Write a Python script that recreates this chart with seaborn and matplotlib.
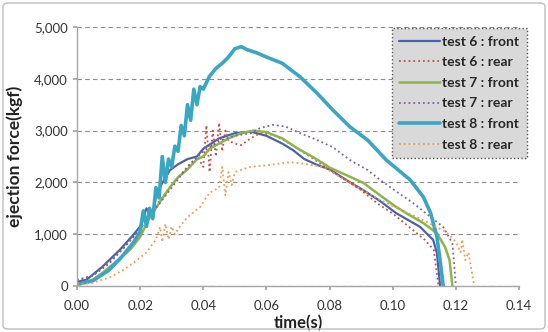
import matplotlib
matplotlib.use("Agg")
import matplotlib.pyplot as plt
import seaborn as sns
import pandas as pd
from matplotlib.patches import FancyBboxPatch
from matplotlib.ticker import FuncFormatter, MultipleLocator

# ---- data ----
t6f = [0, 0.003, 0.008, 0.0136, 0.018, 0.020, 0.022, 0.024, 0.025, 0.027, 0.0295, 0.032, 0.035, 0.038,
       0.040, 0.045, 0.050, 0.055, 0.060, 0.065, 0.0685, 0.072, 0.076, 0.080, 0.0865, 0.0907, 0.096,
       0.101, 0.105, 0.1087, 0.1128, 0.114, 0.115]
f6f = [80, 120, 370, 700, 1000, 1150, 1500, 1300, 1750, 1990, 2240, 2350, 2450, 2500,
       2650, 2850, 2950, 2980, 2900, 2750, 2620, 2450, 2340, 2250, 2000, 1850, 1640,
       1410, 1270, 1140, 890, 640, 0]

t6r = [0, 0.005, 0.01, 0.015, 0.02, 0.025, 0.03, 0.035, 0.038, 0.040, 0.041, 0.042, 0.043, 0.044,
       0.045, 0.046, 0.047, 0.048, 0.050, 0.052, 0.055, 0.058, 0.062, 0.066, 0.070, 0.075, 0.080,
       0.085, 0.090, 0.095, 0.100, 0.105, 0.110, 0.113, 0.1145]
f6r = [120, 200, 450, 750, 1100, 1550, 1950, 2300, 2500, 2300, 3100, 2200, 3000, 2500,
       3150, 2600, 3000, 2800, 2750, 2720, 2850, 2950, 2920, 2800, 2650, 2450, 2250,
       2050, 1850, 1600, 1400, 1150, 900, 700, 0]

t7f = [0, 0.005, 0.008, 0.012, 0.0168, 0.020, 0.0231, 0.026, 0.0295, 0.032, 0.035, 0.038, 0.040,
       0.042, 0.045, 0.048, 0.052, 0.056, 0.060, 0.065, 0.070, 0.075, 0.0802, 0.085, 0.0907, 0.096,
       0.101, 0.105, 0.1097, 0.114, 0.1166, 0.118, 0.1189]
f7f = [30, 120, 250, 450, 700, 950, 1330, 1600, 1910, 2100, 2250, 2450, 2500,
       2650, 2750, 2850, 2950, 3000, 2970, 2850, 2650, 2480, 2280, 2150, 1990, 1750,
       1530, 1380, 1215, 1020, 750, 500, 0]

t7r = [0, 0.005, 0.01, 0.015, 0.02, 0.025, 0.03, 0.035, 0.04, 0.045, 0.05, 0.055, 0.058, 0.062,
       0.066, 0.0707, 0.076, 0.081, 0.0865, 0.092, 0.096, 0.101, 0.1065, 0.112, 0.116, 0.1189,
       0.1195, 0.12]
f7r = [100, 200, 420, 750, 1100, 1500, 1900, 2300, 2600, 2800, 2900, 2950, 3050, 3110,
       3080, 2950, 2820, 2680, 2430, 2240, 2050, 1830, 1600, 1330, 1140, 830,
       400, 0]

t8f = [0, 0.005, 0.01, 0.014, 0.018, 0.020, 0.021, 0.022, 0.023, 0.024, 0.025, 0.026, 0.027, 0.028,
       0.029, 0.030, 0.031, 0.032, 0.033, 0.034, 0.035, 0.036, 0.037, 0.038, 0.039, 0.040, 0.042,
       0.044, 0.046, 0.048, 0.050, 0.052, 0.054, 0.057, 0.060, 0.065, 0.0707, 0.076, 0.081, 0.0865,
       0.092, 0.098, 0.1055, 0.1097, 0.112, 0.114, 0.115, 0.116]
f8f = [30, 100, 300, 550, 850, 1050, 1450, 1150, 1500, 1300, 1900, 1700, 2500, 2000,
       2450, 2300, 2700, 2600, 3100, 2900, 3500, 3200, 3800, 3500, 3850, 3800, 4050,
       4200, 4300, 4420, 4580, 4620, 4560, 4500, 4420, 4300, 4035, 3725, 3400, 3070,
       2820, 2430, 2050, 1720, 1410, 950, 500, 0]

t8r = [0, 0.005, 0.0105, 0.015, 0.019, 0.022, 0.025, 0.0263, 0.027, 0.028, 0.029, 0.030, 0.031,
       0.032, 0.035, 0.039, 0.042, 0.045, 0.046, 0.047, 0.048, 0.049, 0.050, 0.0548, 0.060, 0.0675,
       0.0707, 0.075, 0.078, 0.0865, 0.096, 0.1097, 0.117, 0.120, 0.1215, 0.122, 0.123, 0.124, 0.1258]
f8r = [20, 60, 170, 320, 500, 650, 900, 1140, 850, 1200, 900, 1150, 1000,
       1100, 1330, 1525, 1800, 1900, 2300, 1750, 2200, 1950, 2200, 2300, 2330, 2390,
       2370, 2330, 2300, 1990, 1660, 1270, 1040, 850, 650, 900, 500, 650, 0]

labels = ["test 6 : front", "test 6 : rear", "test 7 : front",
          "test 7 : rear", "test 8 : front", "test 8 : rear"]
series = [(t6f, f6f), (t6r, f6r), (t7f, f7f), (t7r, f7r), (t8f, f8f), (t8r, f8r)]
colors = ["#4A62AA", "#C0504D", "#8DB548", "#7E62A8", "#3AA6C2", "#F39A55"]
styles = ["-", ":", "-", ":", "-", ":"]
widths = [1.6, 1.3, 1.8, 1.3, 2.6, 1.3]

sns.set_theme(style="white")
plt.rcParams["font.family"] = ["Lato", "DejaVu Sans"]

fig = plt.figure(figsize=(5.48, 3.32), dpi=100)
ax = fig.add_axes([77/548, 1-286/332, (519-77)/548, (286-27)/332])

for (t, f), lab, c, ls, lw in zip(series, labels, colors, styles, widths):
    df = pd.DataFrame({"time": t, "force": f})
    sns.lineplot(data=df, x="time", y="force", ax=ax, color=c, linestyle=ls,
                 linewidth=lw, label=lab, sort=False, estimator=None)

ax.set_xlim(0, 0.14)
ax.set_ylim(0, 5000)
ax.xaxis.set_major_locator(MultipleLocator(0.02))
ax.yaxis.set_major_locator(MultipleLocator(1000))
ax.xaxis.set_major_formatter(FuncFormatter(lambda v, p: f"{v:.2f}"))
ax.yaxis.set_major_formatter(FuncFormatter(lambda v, p: f"{int(v):,}"))
ax.yaxis.grid(True, linestyle=(0, (4, 3)), color="#8C8C8C", linewidth=0.8)
ax.xaxis.grid(False)
for s in ["top", "right"]:
    ax.spines[s].set_visible(False)
for s in ["left", "bottom"]:
    ax.spines[s].set_color("#A6A6A6")
    ax.spines[s].set_linewidth(1.0)
ax.tick_params(axis="both", labelsize=9.5, colors="#333333", length=3, color="#A6A6A6",
               direction="out", left=True, bottom=True)
ax.tick_params(axis="x", pad=7)
ax.set_xlabel("time(s)", fontsize=12, fontweight="bold", color="#222222", labelpad=2)
ax.set_ylabel("ejection force(kgf)", fontsize=12.5, fontweight="bold", color="#222222", labelpad=8)

ax.get_legend().remove()
handles, labs = ax.get_legend_handles_labels()
leg = fig.legend(handles, labs, loc="upper right", bbox_to_anchor=(527/548, 1-28/332),
                 frameon=True, fancybox=False, prop={"weight": "bold", "size": 10},
                 handlelength=2.9, handletextpad=0.2, labelspacing=0.62,
                 borderpad=0.55, borderaxespad=0)
frame = leg.get_frame()
frame.set_facecolor("#D9D9D9")
frame.set_edgecolor("#555555")
frame.set_linestyle(":")
frame.set_linewidth(1.0)
frame.set_alpha(1)

border = FancyBboxPatch((3/548, 3/332), 542/548, 326/332, boxstyle="round,pad=0,rounding_size=0.01",
                        transform=fig.transFigure, fill=False, edgecolor="#BFBFBF", linewidth=1.0)
fig.patches.append(border)

fig.savefig("out.png", dpi=100)
